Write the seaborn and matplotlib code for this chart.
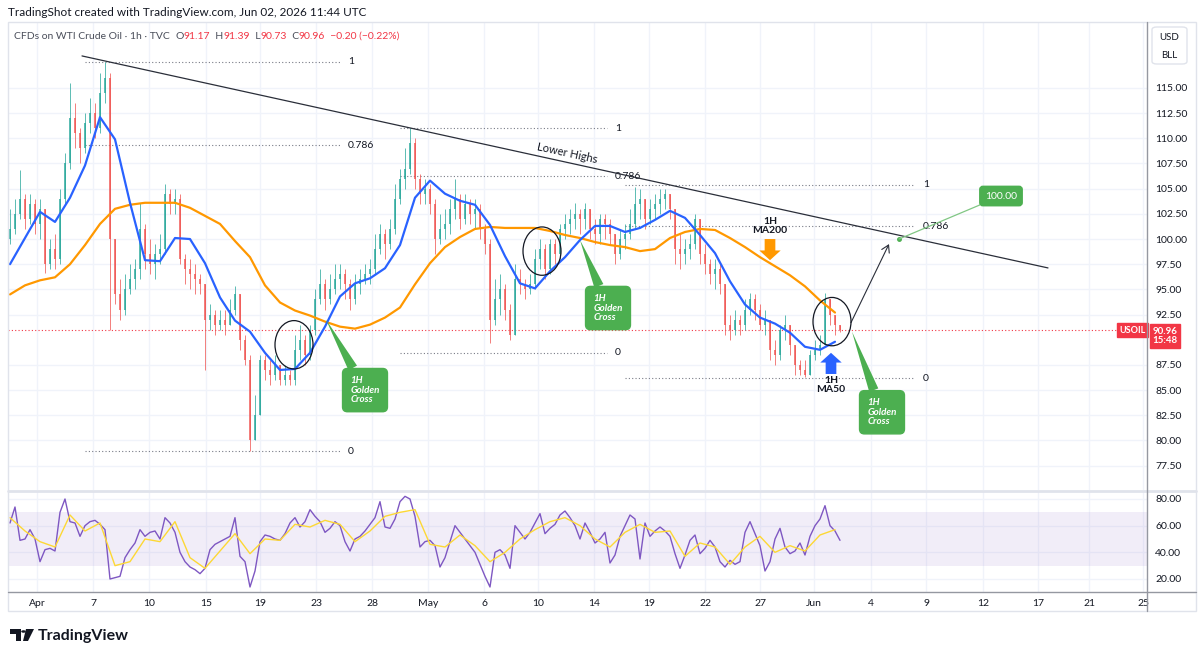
import numpy as np
import matplotlib
matplotlib.use("Agg")
import matplotlib.pyplot as plt
from matplotlib.patches import Ellipse, FancyBboxPatch, Rectangle, Polygon, Circle
from matplotlib.lines import Line2D
import matplotlib.transforms as mtransforms
import seaborn as sns

# ---- data (one bar here ~ 6 hourly candles) ----
first_open = 100.0
close = [101.0, 102.5, 104.0, 102.0, 103.5, 101.5, 103.0, 97.5, 99.0, 98.0,
         104.0, 107.5, 112.0, 110.5, 109.0, 111.5, 112.5, 111.0, 114.5, 116.0,
         100.0, 94.5, 93.0, 95.0, 96.0, 97.0, 101.0, 98.5, 97.5, 98.5,
         99.0, 104.5, 103.5, 104.0, 98.0, 97.0, 96.5, 96.0, 95.5, 92.0,
         92.5, 91.5, 92.0, 91.5, 93.0, 94.5, 90.0, 88.0, 80.0, 82.5,
         88.0, 87.0, 86.5, 87.5, 86.0, 86.5, 86.0, 89.0, 90.0, 88.5,
         91.0, 94.0, 95.5, 94.0, 95.0, 96.0, 96.5, 95.5, 94.0, 95.5,
         96.0, 96.5, 97.0, 99.0, 100.5, 99.5, 101.0, 104.0, 106.0, 107.0,
         109.5, 106.0, 104.5, 105.0, 103.5, 100.0, 101.0, 101.5, 103.0, 104.0,
         102.0, 103.5, 102.5, 103.0, 101.0, 99.5, 92.0, 94.0, 95.0, 93.0,
         90.5, 96.0, 95.5, 95.0, 95.5, 98.0, 99.0, 97.0, 99.5, 98.5,
         101.0, 101.5, 102.0, 102.5, 102.0, 103.0, 101.0, 100.5, 102.0, 101.5,
         100.5, 98.5, 100.0, 100.5, 101.5, 103.5, 104.0, 102.0, 103.0, 103.5,
         104.0, 104.5, 103.0, 99.0, 98.5, 99.0, 99.5, 102.0, 98.5, 97.5,
         96.5, 97.0, 95.5, 91.5, 91.0, 92.0, 91.5, 93.0, 94.0, 93.0,
         91.5, 92.0, 89.0, 88.5, 91.0, 91.5, 89.5, 87.5, 87.0, 86.5,
         88.5, 89.0, 89.5, 94.0, 92.5, 91.5, 90.96]
high = [103.0, 104.0, 106.9, 104.5, 104.5, 104.0, 104.0, 103.0, 100.0, 100.5,
        105.0, 108.5, 115.5, 113.5, 111.0, 112.5, 114.0, 113.5, 116.5, 117.6,
        116.5, 99.5, 96.0, 96.5, 97.5, 98.0, 103.6, 101.5, 100.0, 99.5,
        100.5, 105.5, 105.0, 105.0, 104.5, 98.5, 98.0, 97.5, 96.5, 95.5,
        93.5, 93.0, 93.0, 93.0, 94.0, 95.3, 94.5, 90.5, 88.5, 84.5,
        88.5, 88.5, 88.0, 88.5, 87.5, 87.5, 87.0, 90.5, 91.5, 90.5,
        91.5, 95.0, 97.0, 96.0, 96.5, 97.5, 97.5, 97.0, 96.0, 96.5,
        97.0, 97.5, 98.0, 100.5, 101.5, 101.0, 102.0, 105.5, 107.0, 109.0,
        111.0, 110.0, 106.5, 106.0, 105.5, 104.0, 102.5, 103.0, 104.0, 106.0,
        104.5, 104.5, 104.0, 104.0, 103.5, 101.5, 100.0, 96.0, 96.5, 95.5,
        93.5, 97.5, 97.0, 96.0, 96.5, 99.0, 100.0, 99.5, 100.0, 100.0,
        101.5, 102.5, 103.0, 103.6, 103.0, 103.6, 103.0, 102.0, 102.5, 102.5,
        102.0, 100.5, 101.0, 101.5, 103.0, 105.2, 105.0, 104.0, 104.0, 104.5,
        105.0, 105.0, 104.5, 103.0, 100.5, 100.0, 100.5, 102.5, 102.0, 99.5,
        98.0, 98.0, 97.5, 93.0, 92.5, 93.0, 92.5, 94.0, 94.6, 94.5,
        93.5, 93.0, 92.0, 90.0, 91.5, 92.5, 91.0, 89.0, 88.0, 88.0,
        89.0, 90.0, 90.5, 94.6, 94.0, 92.5, 91.39]
low = [99.5, 100.5, 102.0, 101.0, 101.5, 100.5, 100.0, 96.6, 97.0, 97.0,
       97.5, 103.5, 107.0, 109.0, 107.5, 108.5, 110.5, 110.0, 110.5, 113.5,
       91.0, 93.5, 92.0, 92.5, 94.5, 95.0, 96.0, 97.0, 96.5, 96.0,
       97.5, 98.5, 102.5, 102.5, 97.5, 95.5, 95.0, 94.5, 94.5, 87.0,
       91.0, 90.5, 91.0, 90.5, 91.5, 92.5, 89.0, 87.5, 79.0, 80.5,
       82.5, 86.0, 85.5, 86.0, 85.5, 85.5, 85.5, 85.5, 88.0, 87.5,
       88.0, 90.5, 93.5, 93.0, 93.5, 94.5, 95.0, 94.0, 93.0, 93.5,
       94.5, 95.5, 95.5, 96.5, 98.5, 98.0, 99.0, 100.5, 103.5, 105.0,
       106.5, 105.0, 103.5, 103.5, 102.5, 98.5, 99.5, 100.0, 100.5, 102.0,
       101.0, 101.5, 101.5, 101.0, 100.0, 98.5, 89.7, 91.5, 92.5, 92.0,
       90.0, 90.5, 94.5, 94.0, 94.5, 95.0, 97.0, 96.0, 96.5, 97.5,
       98.0, 100.0, 100.5, 101.0, 100.5, 101.0, 100.0, 99.5, 99.5, 100.0,
       99.5, 97.5, 98.0, 99.0, 100.0, 101.0, 102.0, 101.0, 101.5, 102.0,
       102.5, 103.0, 102.0, 97.5, 97.0, 97.5, 98.0, 99.0, 97.5, 96.5,
       95.5, 95.0, 94.5, 90.5, 90.0, 90.5, 90.5, 91.0, 92.5, 92.0,
       91.0, 90.5, 88.0, 87.5, 88.0, 90.0, 88.5, 86.5, 86.5, 86.3,
       86.5, 88.0, 88.5, 89.5, 91.5, 90.5, 90.73]

# moving averages, sampled every 3rd bar
ma_step = 3
ma50 = [97.5, 100.1, 102.7, 101.7, 104.1, 107.3, 112.1, 109.9, 103.6, 97.9,
        97.8, 100.1, 100.0, 97.6, 94.2, 91.9, 90.8, 88.7, 87.0, 87.1,
        88.7, 91.3, 94.3, 95.6, 96.1, 97.1, 99.4, 104.1, 105.8, 104.5,
        103.8, 103.4, 101.4, 98.3, 95.6, 95.1, 96.8, 98.2, 99.9, 101.3,
        101.3, 100.7, 101.1, 101.9, 102.8, 102.1, 100.4, 98.6, 95.8, 93.5,
        92.2, 91.6, 90.7, 89.3, 89.0, 89.8]
ma200 = [94.5, 95.4, 95.9, 96.2, 97.5, 99.4, 101.5, 103.0, 103.4, 103.6,
         103.6, 103.6, 103.1, 102.3, 101.5, 99.8, 98.2, 95.4, 93.7, 92.9,
         92.4, 91.8, 91.3, 91.1, 91.5, 92.2, 93.2, 95.5, 97.6, 99.2,
         100.2, 101.0, 101.2, 101.1, 101.1, 101.1, 100.8, 100.4, 100.1, 99.7,
         99.4, 99.2, 98.8, 99.0, 100.1, 100.7, 101.0, 100.9, 100.1, 99.2,
         98.2, 97.3, 96.4, 95.3, 93.9, 92.7]

rsi = [62, 74, 49, 50, 57, 50, 33, 42, 43, 41,
       70, 80, 63, 62, 52, 60, 63, 64, 61, 57,
       20, 21, 22, 36, 42, 47, 57, 52, 55, 56,
       50, 66, 62, 55, 40, 33, 29, 27, 24, 28,
       42, 46, 48, 50, 52, 66, 37, 33, 14, 26,
       48, 53, 52, 50, 49, 54, 62, 66, 59, 63,
       72, 67, 63, 55, 58, 63, 60, 48, 41, 50,
       52, 56, 61, 66, 78, 59, 58, 65, 78, 82,
       80, 67, 44, 48, 49, 45, 29, 36, 48, 60,
       55, 50, 45, 40, 31, 22, 14, 40, 42, 38,
       28, 60, 55, 50, 55, 62, 69, 54, 58, 61,
       68, 71, 66, 60, 50, 62, 55, 47, 50, 55,
       32, 38, 52, 60, 68, 65, 35, 62, 52, 56,
       59, 56, 52, 39, 28, 38, 49, 53, 39, 43,
       49, 44, 33, 29, 34, 31, 33, 55, 63, 54,
       45, 26, 33, 50, 58, 44, 39, 41, 47, 38,
       52, 60, 65, 75, 60, 56, 49]
rsi_ma = [66, 56, 48, 44, 68, 56, 62, 30, 33, 50,
          48, 63, 36, 28, 41, 54, 39, 50, 49, 61,
          59, 64, 61, 48, 56, 67, 70, 72, 46, 44,
          53, 45, 33, 40, 50, 57, 63, 66, 60, 50,
          44, 55, 61, 55, 56, 37, 47, 44, 31, 44,
          52, 40, 45, 41, 53, 57]

date_labels = ["Apr", "7", "10", "15", "19", "23", "28", "May", "6", "10", "14",
               "19", "22", "27", "Jun", "4", "9", "12", "17", "21", "25"]
date_pos = [5.4, 16.6, 27.8, 39.2, 50.0, 61.2, 72.4, 83.6, 94.8, 105.6, 116.8,
            127.8, 139.0, 150.0, 160.8, 172.2, 183.2, 194.6, 205.6, 215.8, 226.6]

price_ticks = [77.5, 80.0, 82.5, 85.0, 87.5, 92.5, 95.0, 97.5, 100.0,
               102.5, 105.0, 107.5, 110.0, 112.5, 115.0]
rsi_ticks = [20, 40, 60, 80]

fib_ratios = [1, 0.786, 0]
fib_hi = [117.6, 111.0, 105.37]
fib_lo = [78.95, 88.7, 86.2]
fib_x0 = [15.0, 78.0, 123.0]
fib_x1 = [66.0, 119.4, 181.0]

trend_x = [14.4, 207.6]
trend_y = [118.18, 97.13]

circles = [(56.8, 89.5), (106.4, 98.8), (164.4, 91.8)]
cross_tips = [(63.2, 92.0), (114.0, 99.9), (168.4, 90.8)]
cross_boxes = [(71.0, 85.0), (119.6, 93.15), (174.4, 82.8)]

last_price = 90.96
target_price = 100.00

UP, DN = "#26a69a", "#ef5350"
BLUE, ORANGE, GREEN = "#2962ff", "#ff9800", "#4caf50"
RED = "#f23645"
INK = "#131722"
GRID = "#f0f3fa"

sns.set_style("white")
plt.rcParams["font.family"] = ["Lato", "DejaVu Sans"]

W, H = 1200, 661
fig = plt.figure(figsize=(W / 100, H / 100), dpi=100)
fx = lambda px: px / W
fy = lambda py: 1 - py / H

ax = fig.add_axes([fx(8), fy(490), fx(1147) - fx(8), fy(22) - fy(490)])
ar = fig.add_axes([fx(8), fy(592), fx(1147) - fx(8), fy(492) - fy(592)])

n = len(close)
xb = np.arange(n)
c = np.array(close)
o = np.r_[first_open, c[:-1]]
h = np.maximum(np.array(high), np.maximum(o, c))
l = np.minimum(np.array(low), np.minimum(o, c))
col = np.where(c >= o, UP, DN)

# ---- price pane ----
ax.vlines(xb, l, h, colors=col, lw=0.7, alpha=0.75, zorder=2)
ax.bar(xb, np.maximum(np.abs(c - o), 0.15), bottom=np.minimum(o, c), width=0.42,
       color=col, alpha=0.75, lw=0, zorder=2)

mx = np.arange(0, n, ma_step)[:len(ma50)]
sns.lineplot(x=mx, y=ma200, ax=ax, color=ORANGE, lw=1.6, zorder=3)
sns.lineplot(x=mx, y=ma50, ax=ax, color=BLUE, lw=1.6, zorder=3)

ax.set_xlim(-0.4, 227.4)
ax.set_ylim(75.08, 121.55)
ax.set_xticks(date_pos)
ax.set_xticklabels([])
ax.set_yticks(price_ticks)
ax.set_yticklabels([f"{v:.2f}" for v in price_ticks])
ax.yaxis.tick_right()
ax.tick_params(axis="y", length=0, pad=6, labelsize=7.5, labelcolor=INK)
ax.tick_params(axis="x", length=0)
ax.grid(True, color=GRID, lw=1)
ax.set_axisbelow(True)
for s in ax.spines.values():
    s.set_visible(False)
ax.set_xlabel("")
ax.set_ylabel("")

# last price line
ax.axhline(last_price, xmax=(1118 - 8) / 1139, color=RED, lw=0.8, ls=(0, (1, 2)), zorder=1)

# fib retracements
for hi, lo, x0, x1 in zip(fib_hi, fib_lo, fib_x0, fib_x1):
    for r in fib_ratios:
        lvl = lo + r * (hi - lo)
        ax.plot([x0, x1], [lvl, lvl], color="#787b86", lw=0.8, ls=(0, (1, 2)), zorder=1)
        ax.text(x1 + 1.6, lvl, f"{r:g}", fontsize=7.5, color=INK, va="center", ha="left")

# lower highs trendline
ax.plot(trend_x, trend_y, color="#2a2e39", lw=0.9, zorder=4)
p0 = ax.transData.transform((trend_x[0], trend_y[0]))
p1 = ax.transData.transform((trend_x[1], trend_y[1]))
ang = np.degrees(np.arctan2(p1[1] - p0[1], p1[0] - p0[0]))
ax.text(111.4, 108.55, "Lower Highs", fontsize=8, color=INK, rotation=ang,
        rotation_mode="anchor", ha="center", va="center")

# circles around crosses
for cx, cy in circles:
    ax.add_patch(Ellipse((cx, cy), 7.6, 4.8, fill=False, ec=INK, lw=0.9, zorder=5))

# golden cross callouts
for (tx, ty), (bx, by) in zip(cross_tips, cross_boxes):
    ax.annotate("1H\nGolden\nCross", xy=(tx, ty), xytext=(bx, by), fontsize=7,
                fontweight="bold", fontstyle="italic", color="white", ha="center",
                va="center", multialignment="left", linespacing=1.05, zorder=6,
                bbox=dict(boxstyle="round,pad=0.8,rounding_size=0.5", fc=GREEN, ec=GREEN),
                arrowprops=dict(arrowstyle="wedge,tail_width=1.0,shrink_factor=0.5",
                                fc=GREEN, ec=GREEN, lw=0, shrinkA=0, shrinkB=0))

# MA labels with block arrows
ax.text(152, 101.25, "1H\nMA200", fontsize=7.5, fontweight="bold", color=INK,
        ha="center", va="center", linespacing=1.0)
ax.annotate("", xy=(152, 97.9), xytext=(152, 100.0),
            arrowprops=dict(arrowstyle="simple,head_length=0.5,head_width=1.1,tail_width=0.55",
                            fc=ORANGE, ec="none", mutation_scale=14, shrinkA=0, shrinkB=0))
ax.text(164.2, 85.55, "1H\nMA50", fontsize=7.5, fontweight="bold", color=INK,
        ha="center", va="center", linespacing=1.0)
ax.annotate("", xy=(164.2, 88.7), xytext=(164.2, 86.6),
            arrowprops=dict(arrowstyle="simple,head_length=0.5,head_width=1.1,tail_width=0.55",
                            fc=BLUE, ec="none", mutation_scale=14, shrinkA=0, shrinkB=0))

# projection
ax.annotate("", xy=(175.8, 99.5), xytext=(168.2, 91.7),
            arrowprops=dict(arrowstyle="->,head_length=0.5,head_width=0.3",
                            color="#2a2e39", lw=0.8, shrinkA=0, shrinkB=0))
ax.plot([177.8], [target_price], "o", color=GREEN, ms=2.5, zorder=6)
ax.annotate(f"{target_price:.2f}", xy=(177.8, target_price), xytext=(198.2, 104.27),
            fontsize=7.5, color="white", ha="center", va="center", zorder=6,
            bbox=dict(boxstyle="round,pad=0.5,rounding_size=0.3", fc=GREEN, ec=GREEN),
            arrowprops=dict(arrowstyle="-", color="#81c784", lw=0.9, shrinkA=0, shrinkB=0))

# price tags on the scale
bt = mtransforms.blended_transform_factory(ax.transAxes, ax.transData)
ax.text(0.9985, last_price, "USOIL", transform=bt, fontsize=6.5, fontweight="bold",
        color="white", ha="right", va="center", clip_on=False, zorder=7,
        bbox=dict(boxstyle="square,pad=0.25", fc=RED, ec=RED))
ax.text(1.0158, last_price + 0.35, f"{last_price:.2f}\n15:48", transform=bt, fontsize=7,
        fontweight="bold", color="white", ha="center", va="top", linespacing=1.1,
        clip_on=False, zorder=7, bbox=dict(boxstyle="square,pad=0.3", fc=RED, ec=RED))

# ---- RSI pane ----
ar.axhspan(30, 70, color="#7e57c2", alpha=0.1, lw=0)
sns.lineplot(x=xb, y=rsi, ax=ar, color="#7e57c2", lw=1.0)
sns.lineplot(x=mx[:len(rsi_ma)], y=rsi_ma, ax=ar, color="#fdd835", lw=1.0)
ar.set_xlim(-0.4, 227.4)
ar.set_ylim(10.25, 85.25)
ar.set_yticks(rsi_ticks)
ar.set_yticklabels([f"{v:.2f}" for v in rsi_ticks])
ar.yaxis.tick_right()
ar.set_xticks(date_pos)
ar.set_xticklabels(date_labels)
ar.tick_params(axis="y", length=0, pad=6, labelsize=7.5, labelcolor=INK)
ar.tick_params(axis="x", length=0, pad=5, labelsize=7.5, labelcolor=INK)
ar.grid(True, color=GRID, lw=1)
ar.set_axisbelow(True)
for s in ar.spines.values():
    s.set_visible(False)
ar.set_xlabel("")
ar.set_ylabel("")

# ---- frame & chrome ----
fig.add_artist(Rectangle((fx(8), fy(611)), fx(1196) - fx(8), fy(22) - fy(611),
                         transform=fig.transFigure, fill=False, ec="#e0e3eb", lw=1))
fig.add_artist(Line2D([fx(8), fx(1196)], [fy(491), fy(491)], transform=fig.transFigure,
                      color="#e0e3eb", lw=2))
fig.add_artist(Line2D([fx(8), fx(1196)], [fy(592), fy(592)], transform=fig.transFigure,
                      color="#9598a1", lw=1))
fig.add_artist(Line2D([fx(1147), fx(1147)], [fy(22), fy(611)], transform=fig.transFigure,
                      color="#9598a1", lw=1))
fig.add_artist(FancyBboxPatch((fx(1152), fy(64)), fx(1187) - fx(1152), fy(27) - fy(64),
                              boxstyle="round,pad=0,rounding_size=0.004",
                              transform=fig.transFigure, fc="white", ec="#e0e3eb", lw=1))
fig.text(fx(1169), fy(37), "USD", fontsize=7, color=INK, ha="center", va="center")
fig.text(fx(1169), fy(56), "BLL", fontsize=7, color=INK, ha="center", va="center")

fig.text(fx(8), fy(12), "TradingShot created with TradingView.com, Jun 02, 2026 11:44 UTC",
         fontsize=8.5, color=INK, ha="left", va="center")

GREY = "#4a4e5a"
t = fig.text(fx(14), fy(41), "CFDs on WTI Crude Oil · 1h · TVC  ", fontsize=7.5,
             color=GREY, ha="left", va="bottom")
parts = [("O", GREY), ("91.17", RED), ("  H", GREY), ("91.39", RED), ("  L", GREY),
         ("90.73", RED), ("  C", GREY), ("90.96", RED), ("  \u22120.20 (\u22120.22%)", RED)]
for s, cc in parts:
    t = ax.annotate(s, xy=(1, 0), xycoords=t, fontsize=7.5, color=cc, ha="left", va="bottom")

# TradingView logo
logo = [Polygon([(fx(10), fy(629)), (fx(21), fy(629)), (fx(21), fy(641)),
                 (fx(16), fy(641)), (fx(16), fy(634)), (fx(10), fy(634))], closed=True),
        Polygon([(fx(26), fy(629)), (fx(34), fy(629)), (fx(28), fy(641)), (fx(23), fy(641))],
                closed=True)]
for p in logo:
    p.set_transform(fig.transFigure)
    p.set_facecolor(INK)
    p.set_edgecolor("none")
    fig.add_artist(p)
fig.add_artist(Circle((fx(23.5), fy(631.5)), 2.3 / W, transform=fig.transFigure, fc=INK, ec="none"))
fig.text(fx(38), fy(636), "TradingView", fontsize=11.5, fontweight="bold", color=INK,
         ha="left", va="center")

fig.savefig("out.png", dpi=100)
